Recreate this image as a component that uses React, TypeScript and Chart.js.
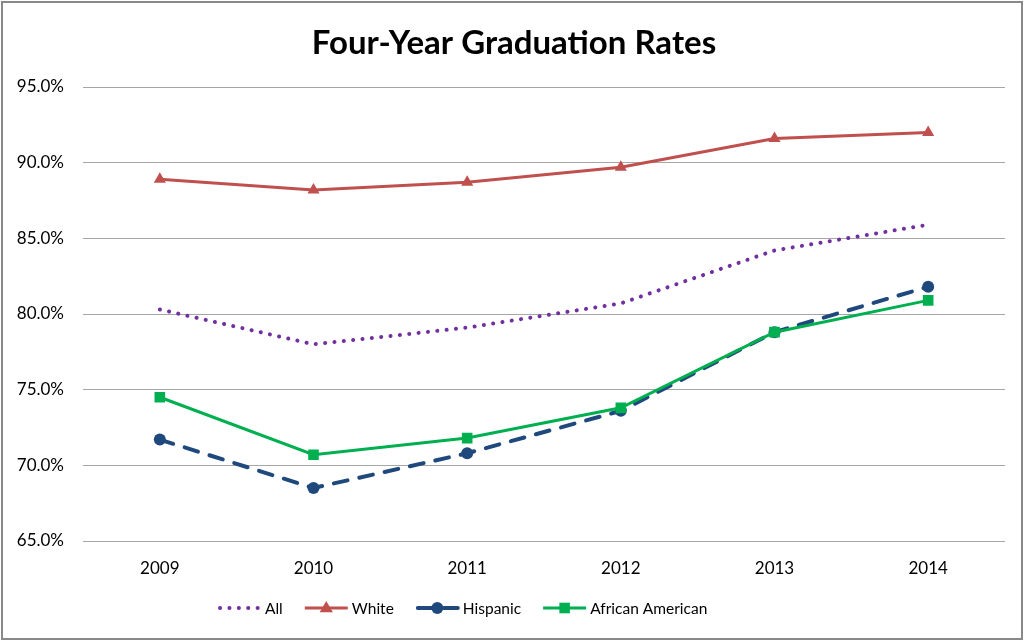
import React, { useEffect, useRef } from 'react';
import { Chart, registerables } from 'chart.js';

Chart.register(...registerables);

const titleText = 'Four-Year Graduation Rates';
const years = ['2009', '2010', '2011', '2012', '2013', '2014'];
const allRates = [80.3, 78.0, 79.1, 80.7, 84.2, 85.9];
const whiteRates = [88.9, 88.2, 88.7, 89.7, 91.6, 92.0];
const hispanicRates = [71.7, 68.5, 70.8, 73.6, 78.8, 81.8];
const africanAmericanRates = [74.5, 70.7, 71.8, 73.8, 78.8, 80.9];
const yMin = 65;
const yMax = 95;
const yStep = 5;

const FONT = 'Lato, "Open Sans", sans-serif';

const titleLegendPlugin = {
  id: 'titleLegend',
  afterDraw(chart: any) {
    const ctx = chart.ctx as CanvasRenderingContext2D;
    ctx.save();
    // title
    ctx.fillStyle = '#000000';
    ctx.font = `bold 33px ${FONT}`;
    ctx.textAlign = 'center';
    ctx.textBaseline = 'alphabetic';
    ctx.fillText(titleText, 514, 54);

    // legend
    ctx.font = `15.5px ${FONT}`;
    ctx.textAlign = 'left';
    const lineLen = 43;
    const gapText = 4;
    const gapItem = 22;
    let x = 218;
    const y = 608;
    chart.data.datasets.forEach((ds: any) => {
      ctx.save();
      ctx.strokeStyle = ds.borderColor;
      ctx.lineWidth = ds.borderWidth;
      ctx.lineCap = ds.borderCapStyle || 'butt';
      ctx.setLineDash(ds.borderDash || []);
      ctx.beginPath();
      ctx.moveTo(x + (ds.borderDash && ds.borderDash.length ? 2 : 0), y);
      ctx.lineTo(x + lineLen, y);
      ctx.stroke();
      ctx.restore();
      const cx = x + lineLen / 2;
      ctx.fillStyle = ds.pointBackgroundColor || ds.borderColor;
      const r = ds.pointRadius;
      if (r > 0) {
        ctx.beginPath();
        if (ds.pointStyle === 'triangle') {
          ctx.moveTo(cx, y - r);
          ctx.lineTo(cx + r * 0.95, y + r * 0.6);
          ctx.lineTo(cx - r * 0.95, y + r * 0.6);
          ctx.closePath();
        } else if (ds.pointStyle === 'rect') {
          const s = r * Math.SQRT2;
          ctx.rect(cx - s / 2, y - s / 2, s, s);
        } else {
          ctx.arc(cx, y, r, 0, Math.PI * 2);
        }
        ctx.fill();
      }
      ctx.fillStyle = '#000000';
      ctx.textBaseline = 'middle';
      ctx.fillText(ds.label, x + lineLen + gapText, y + 1);
      x += lineLen + gapText + ctx.measureText(ds.label).width + gapItem;
    });
    ctx.restore();
  },
};

export default function App() {
  const ref = useRef<HTMLCanvasElement | null>(null);

  useEffect(() => {
    if (!ref.current) return;
    const chart = new Chart(ref.current, {
      type: 'line',
      data: {
        labels: years,
        datasets: [
          {
            label: 'All',
            data: allRates,
            borderColor: '#7030A0',
            backgroundColor: '#7030A0',
            borderWidth: 4,
            borderDash: [0.1, 9.3],
            borderCapStyle: 'round',
            pointRadius: 0,
            pointHoverRadius: 0,
            order: 3,
          },
          {
            label: 'White',
            data: whiteRates,
            borderColor: '#C0504D',
            backgroundColor: '#C0504D',
            pointBackgroundColor: '#C0504D',
            borderWidth: 3,
            pointStyle: 'triangle',
            pointRadius: 7,
            pointBorderWidth: 0,
            order: 2,
          },
          {
            label: 'Hispanic',
            data: hispanicRates,
            borderColor: '#1F497D',
            backgroundColor: '#1F497D',
            pointBackgroundColor: '#1F497D',
            borderWidth: 4,
            borderDash: [14, 12],
            borderCapStyle: 'round',
            pointStyle: 'circle',
            pointRadius: 6,
            pointBorderWidth: 0,
            order: 1,
          },
          {
            label: 'African American',
            data: africanAmericanRates,
            borderColor: '#00B050',
            backgroundColor: '#00B050',
            pointBackgroundColor: '#00B050',
            borderWidth: 3,
            pointStyle: 'rect',
            pointRadius: 7.5,
            pointBorderWidth: 0,
            order: 0,
          },
        ] as any,
      },
      options: {
        animation: false,
        responsive: false,
        maintainAspectRatio: false,
        devicePixelRatio: 1,
        layout: { padding: { left: 0, right: 20, top: 87, bottom: 49 } },
        elements: { line: { tension: 0 } },
        plugins: {
          legend: { display: false },
          title: { display: false },
          tooltip: { enabled: false },
        },
        scales: {
          x: {
            offset: true,
            grid: { display: false, drawTicks: false },
            border: { display: false },
            ticks: { color: '#000000', font: { family: FONT, size: 17 }, padding: 17 },
            afterFit: (s: any) => { s.height = 50; },
          },
          y: {
            min: yMin,
            max: yMax,
            grid: { color: '#A6A6A6', lineWidth: 1, drawTicks: false },
            border: { display: false },
            ticks: {
              stepSize: yStep,
              color: '#000000',
              font: { family: FONT, size: 17 },
              padding: 19,
              callback: (v: any) => Number(v).toFixed(1) + '%',
            },
            afterFit: (s: any) => { s.width = 83; },
          },
        },
      },
      plugins: [titleLegendPlugin],
    });
    return () => chart.destroy();
  }, []);

  return (
    <div style={{ position: 'fixed', left: 0, top: 0, width: 1025, height: 640, background: '#ffffff' }}>
      <canvas ref={ref} width={1025} height={640} style={{ position: 'absolute', left: 0, top: 0, width: 1025, height: 640 }} />
      <div style={{ position: 'absolute', left: 1, top: 1, width: 1018, height: 635, border: '2px solid #898989', pointerEvents: 'none' }} />
    </div>
  );
}
